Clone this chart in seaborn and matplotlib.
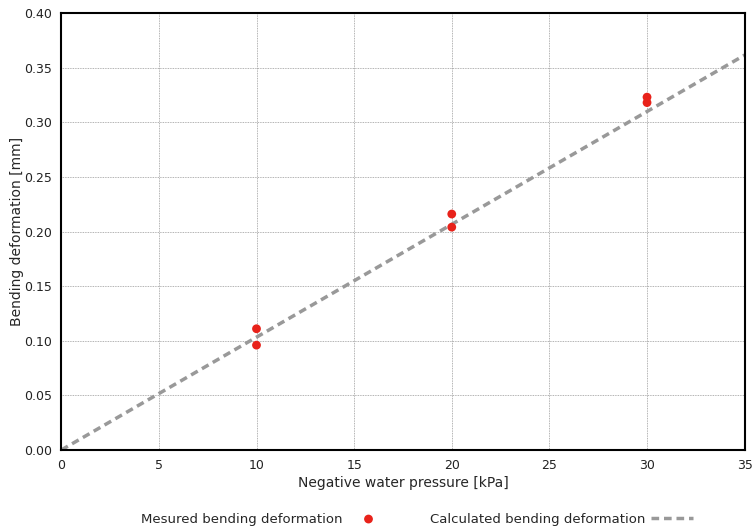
import numpy as np
import pandas as pd
import matplotlib
matplotlib.use('Agg')
import matplotlib.pyplot as plt
import seaborn as sns

sns.set_style('white')
plt.rcParams['font.family'] = ['DejaVu Sans']

# measured data
pressure = [10, 10, 20, 20, 30, 30]
deformation = [0.111, 0.096, 0.216, 0.204, 0.323, 0.318]

# calculated (linear) deformation
calc_pressure = [0, 35]
calc_deformation = [0.0, 0.3615]

measured = pd.DataFrame({'p': pressure, 'd': deformation})
calc = pd.DataFrame({'p': calc_pressure, 'd': calc_deformation})

fig = plt.figure(figsize=(7.56, 5.31), dpi=100)
ax = fig.add_axes([0.081, 0.1525, 0.904, 0.823])

sns.lineplot(data=calc, x='p', y='d', ax=ax, color='#999999', lw=2.5,
             linestyle=(0, (2.2, 1.4)), label='Calculated bending deformation', zorder=2)
sns.scatterplot(data=measured, x='p', y='d', ax=ax, color='#e8221a', s=40,
                edgecolor='none', label='Mesured bending deformation', zorder=3)

ax.set_xlim(0, 35)
ax.set_ylim(0, 0.4)
ax.set_xticks(np.arange(0, 36, 5))
ax.set_yticks(np.arange(0, 0.41, 0.05))
ax.set_yticklabels([f'{v:.2f}' for v in np.arange(0, 0.41, 0.05)])
ax.grid(True, color='#999999', linestyle=(0, (1, 1)), linewidth=0.6)
for s in ax.spines.values():
    s.set_linewidth(1.5)
    s.set_color('black')
ax.tick_params(direction='out', length=3, width=1, labelsize=9, colors='#222222')
ax.set_xlabel('Negative water pressure [kPa]', fontsize=10, labelpad=3)
ax.set_ylabel('Bending deformation [mm]', fontsize=10, labelpad=0)

h, l = ax.get_legend_handles_labels()
ax.get_legend().remove()
fs = 9.5
px = fs * 100 / 72
leg_y = 1 - 519 / 531
fig.legend([h[1]], [l[1]], loc='center left', bbox_to_anchor=(141 / 756, leg_y),
           frameon=False, markerfirst=False, fontsize=fs, borderpad=0, borderaxespad=0,
           handlelength=40 / px, handletextpad=6 / px)
fig.legend([h[0]], [l[0]], loc='center left', bbox_to_anchor=(430 / 756, leg_y),
           frameon=False, markerfirst=False, fontsize=fs, borderpad=0, borderaxespad=0,
           handlelength=42 / px, handletextpad=6 / px)

fig.savefig('out.png', dpi=100)
